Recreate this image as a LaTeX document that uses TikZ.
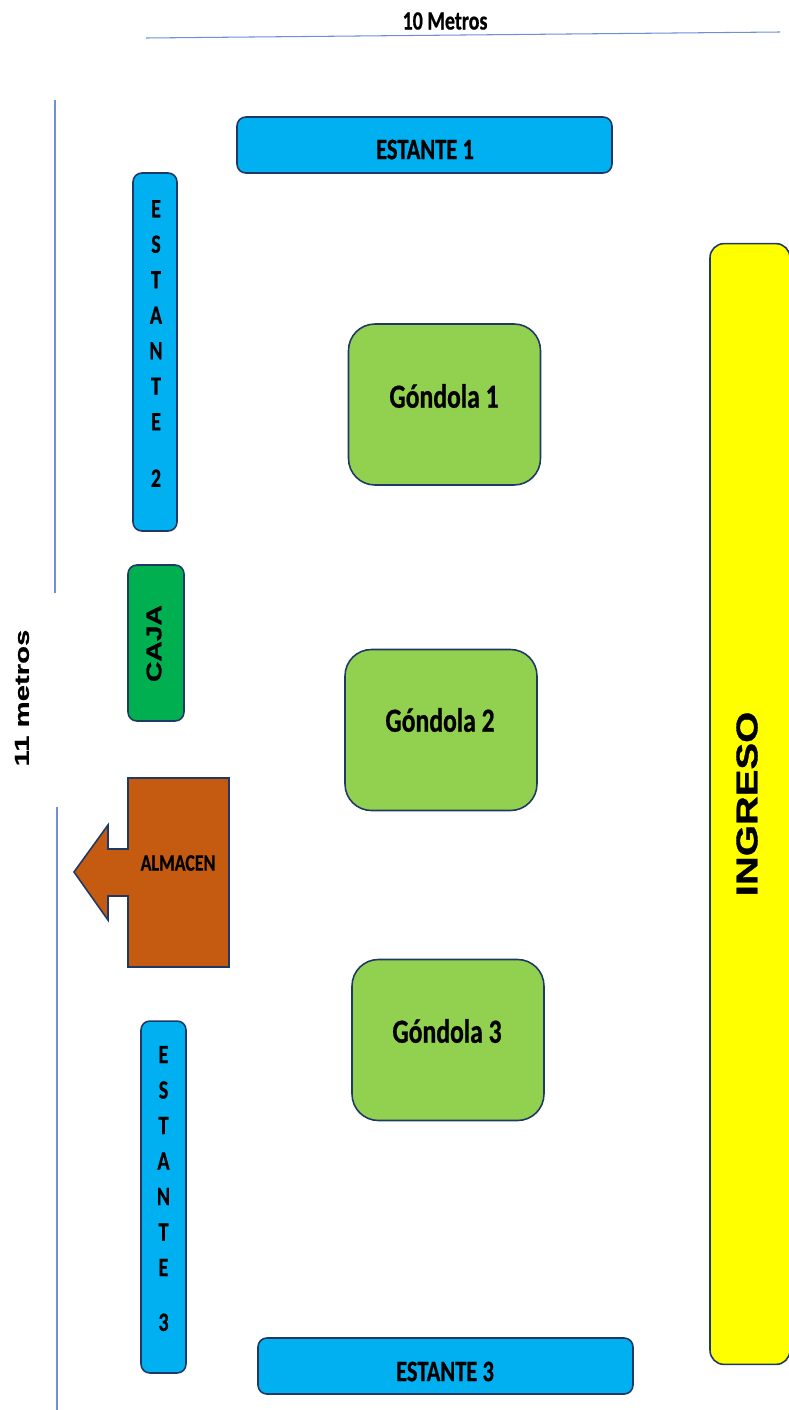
\documentclass[tikz,border=0pt]{standalone}
\usepackage{fontspec}
\usepackage{xcolor}
\newfontfamily\tallfont{Carlito}[FakeStretch=0.76,FakeBold=0.6]
\newfontfamily\widefont{Liberation Sans}[FakeStretch=1.45,FakeBold=0.6]
\newfontfamily\signfont{Liberation Sans}[FakeStretch=1.34,FakeBold=1.2]
\definecolor{shelfblue}{HTML}{00B0F0}
\definecolor{gondolagreen}{HTML}{92D050}
\definecolor{cajagreen}{HTML}{00B050}
\definecolor{almacenbrown}{HTML}{C55A11}
\definecolor{ingresoyellow}{HTML}{FFFF00}
\definecolor{outline}{HTML}{1F3864}
\definecolor{limitblue}{HTML}{6F8FD6}

\begin{document}
\begin{tikzpicture}[x=0.02cm, y=-0.02cm,
    box/.style={draw=outline, line width=0.9pt, inner sep=0pt},
    shelf/.style={box, fill=shelfblue, rounded corners=5pt},
    gondola/.style={box, fill=gondolagreen, rounded corners=15pt, minimum width=3.84cm, minimum height=3.22cm},
    tag/.style={font=\tallfont\bfseries\fontsize{19.2}{22}\selectfont, text=black, inner sep=0pt},
    shelftag/.style={font=\tallfont\bfseries\fontsize{16.9}{20}\selectfont, text=black, inner sep=0pt},
    smalltag/.style={font=\tallfont\bfseries\fontsize{15}{20.2}\selectfont, text=black, inner sep=0pt, align=center},
    signtag/.style={text=black, inner sep=0pt, rotate=90},
    limit/.style={draw=limitblue, line width=0.6pt}]
\useasboundingbox (0,0) rectangle (788,1410);
% limits of the room
\coordinate (topa) at (146,38);
\coordinate (topb) at (780,32);
\coordinate (lefta) at (55,100);
\coordinate (leftb) at (55,593);
\coordinate (leftc) at (57,807);
\coordinate (leftd) at (57,1410);
\draw[limit] (topa) -- (topb);
\draw[limit] (lefta) -- (leftb);
\draw[limit] (leftc) -- (leftd);
\node[shelftag, font=\tallfont\bfseries\fontsize{15}{18}\selectfont] (ancho) at (445,21) {10 Metros};
\node[signtag, font=\widefont\bfseries\fontsize{11.5}{14}\selectfont] (largo) at (22,698) {11 metros};
% shelves
\node[shelf, minimum width=7.5cm, minimum height=1.12cm] (estante1) at (424.5,145) {};
\node[shelf, minimum width=7.5cm, minimum height=1.12cm] (estante4) at (445.5,1366) {};
\node[shelf, minimum width=0.88cm, minimum height=7.16cm] (estante2) at (155,352) {};
\node[shelf, minimum width=0.9cm, minimum height=7.04cm] (estante3) at (163.5,1197) {};
\node[shelftag] (textoa) at (425,149.5) {ESTANTE 1};
\node[shelftag] (textod) at (445,1371.5) {ESTANTE 3};
\node[smalltag] (textob) at (156,343.5) {E\\S\\T\\A\\N\\T\\E\\[12pt]2};
\node[smalltag] (textoc) at (163.5,1188.5) {E\\S\\T\\A\\N\\T\\E\\[11pt]3};
% gondolas
\node[gondola] (gondola1) at (444.5,404.5) {};
\node[gondola] (gondola2) at (441,730) {};
\node[gondola] (gondola3) at (448,1040) {};
\node[tag] (textoe) at (444,396) {Góndola 1};
\node[tag] (textof) at (440,720) {Góndola 2};
\node[tag] (textog) at (447,1031) {Góndola 3};
% caja
\node[box, fill=cajagreen, rounded corners=5pt, minimum width=1.12cm, minimum height=3.12cm] (caja) at (156,643) {};
\node[signtag, font=\signfont\bfseries\fontsize{12}{15}\selectfont] (textoh) at (154,643.5) {CAJA};
% almacen
\draw[box, fill=almacenbrown] (128,778) -- (229,778) -- (229,967) -- (128,967) -- (128,896)
    -- (108,896) -- (108,920) -- (74,872) -- (108,825) -- (108,849) -- (128,849) -- cycle;
\node[shelftag, font=\tallfont\bfseries\fontsize{13.4}{16}\selectfont] (textoi) at (178,863) {ALMACEN};
% ingreso
\node[box, fill=ingresoyellow, rounded corners=8pt, minimum width=1.6cm, minimum height=22.42cm] (ingreso) at (750,804) {};
\node[signtag, font=\signfont\bfseries\fontsize{17}{20}\selectfont] (textoj) at (747,804) {INGRESO};
\end{tikzpicture}
\end{document}
